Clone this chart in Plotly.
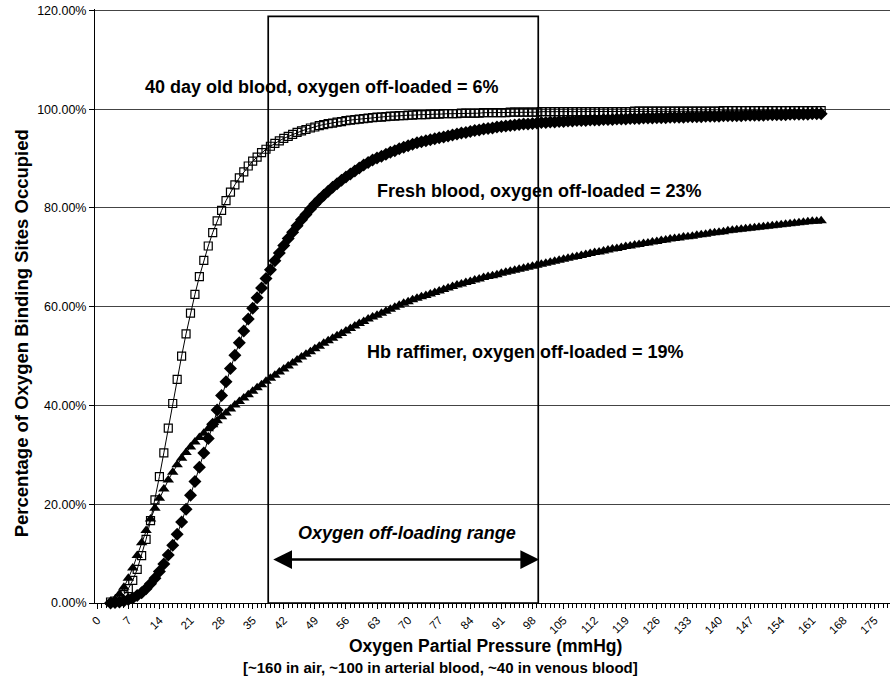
import plotly.graph_objects as go

# oxygen partial pressure (mmHg), one point per mmHg
pressure = list(range(3, 164))

# % of binding sites occupied (x = 3..163)
old_blood = [
    0.2, 0.4, 0.9, 1.7, 2.9, 4.6, 6.8, 9.6, 12.9, 16.7,
    20.9, 25.6, 30.4, 35.4, 40.4, 45.3, 50.0, 54.5, 58.7, 62.5,
    66.1, 69.4, 72.3, 75.0, 77.4, 79.5, 81.5, 83.2, 84.7, 86.1,
    87.3, 88.5, 89.5, 90.3, 91.2, 91.9, 92.5, 93.1, 93.6, 94.1,
    94.5, 94.9, 95.3, 95.6, 95.9, 96.2, 96.4, 96.7, 96.9, 97.1,
    97.2, 97.4, 97.5, 97.7, 97.8, 97.9, 98.0, 98.1, 98.2, 98.3,
    98.4, 98.4, 98.5, 98.6, 98.6, 98.7, 98.7, 98.8, 98.8, 98.9,
    98.9, 98.9, 99.0, 99.0, 99.0, 99.1, 99.1, 99.1, 99.1, 99.2,
    99.2, 99.2, 99.2, 99.2, 99.3, 99.3, 99.3, 99.3, 99.3, 99.3,
    99.4, 99.4, 99.4, 99.4, 99.4, 99.4, 99.4, 99.5, 99.5, 99.5,
    99.5, 99.5, 99.5, 99.5, 99.5, 99.5, 99.5, 99.5, 99.5, 99.5,
    99.5, 99.5, 99.5, 99.5, 99.5, 99.5, 99.5, 99.5, 99.6, 99.6,
    99.6, 99.6, 99.6, 99.6, 99.6, 99.6, 99.6, 99.6, 99.6, 99.6,
    99.6, 99.6, 99.6, 99.6, 99.6, 99.6, 99.6, 99.6, 99.7, 99.7,
    99.7, 99.7, 99.7, 99.7, 99.7, 99.7, 99.7, 99.7, 99.7, 99.7,
    99.7, 99.7, 99.7, 99.7, 99.7, 99.7, 99.7, 99.7, 99.7, 99.7,
    99.7,
]

fresh_blood = [
    0.0, 0.1, 0.2, 0.4, 0.7, 1.0, 1.5, 2.1, 2.9, 3.9,
    5.0, 6.4, 7.9, 9.7, 11.7, 13.9, 16.4, 19.0, 21.8, 24.6,
    27.5, 30.4, 33.3, 36.2, 39.1, 42.0, 44.8, 47.5, 50.2, 52.7,
    55.1, 57.5, 59.7, 61.8, 63.8, 65.7, 67.5, 69.3, 70.9, 72.4,
    73.8, 75.1, 76.4, 77.6, 78.7, 79.8, 80.8, 81.7, 82.6, 83.4,
    84.2, 84.9, 85.6, 86.3, 86.9, 87.5, 88.1, 88.7, 89.2, 89.7,
    90.1, 90.5, 90.9, 91.3, 91.6, 92.0, 92.3, 92.6, 92.9, 93.2,
    93.4, 93.6, 93.8, 94.0, 94.2, 94.4, 94.6, 94.8, 95.0, 95.2,
    95.3, 95.5, 95.7, 95.8, 96.0, 96.1, 96.2, 96.4, 96.5, 96.6,
    96.7, 96.8, 96.9, 97.0, 97.0, 97.1, 97.2, 97.3, 97.3, 97.4,
    97.4, 97.5, 97.5, 97.6, 97.6, 97.7, 97.7, 97.7, 97.8, 97.8,
    97.8, 97.9, 97.9, 97.9, 98.0, 98.0, 98.0, 98.1, 98.1, 98.1,
    98.2, 98.2, 98.2, 98.3, 98.3, 98.3, 98.4, 98.4, 98.4, 98.4,
    98.5, 98.5, 98.5, 98.5, 98.6, 98.6, 98.6, 98.6, 98.7, 98.7,
    98.7, 98.7, 98.7, 98.8, 98.8, 98.8, 98.8, 98.8, 98.9, 98.9,
    98.9, 98.9, 98.9, 99.0, 99.0, 99.0, 99.0, 99.0, 99.1, 99.1,
    99.1,
]

hb_raffimer = [
    0.1, 0.7, 1.8, 3.2, 5.0, 7.1, 9.6, 12.2, 14.7, 17.0,
    19.2, 21.2, 23.1, 24.9, 26.5, 28.0, 29.3, 30.5, 31.6, 32.6,
    33.5, 34.4, 35.3, 36.1, 36.9, 37.7, 38.5, 39.3, 40.1, 40.8,
    41.5, 42.2, 42.9, 43.6, 44.2, 44.9, 45.5, 46.1, 46.8, 47.4,
    48.0, 48.6, 49.2, 49.8, 50.4, 50.9, 51.5, 52.0, 52.6, 53.1,
    53.6, 54.1, 54.6, 55.1, 55.6, 56.1, 56.6, 57.0, 57.5, 57.9,
    58.3, 58.7, 59.1, 59.5, 59.9, 60.3, 60.7, 61.0, 61.4, 61.7,
    62.0, 62.3, 62.6, 62.9, 63.2, 63.5, 63.8, 64.1, 64.4, 64.6,
    64.9, 65.1, 65.4, 65.6, 65.9, 66.1, 66.3, 66.5, 66.8, 67.0,
    67.2, 67.4, 67.6, 67.8, 68.0, 68.2, 68.4, 68.6, 68.8, 69.0,
    69.2, 69.4, 69.6, 69.8, 70.0, 70.2, 70.4, 70.6, 70.8, 71.0,
    71.1, 71.3, 71.5, 71.7, 71.8, 72.0, 72.2, 72.3, 72.5, 72.6,
    72.8, 72.9, 73.1, 73.2, 73.4, 73.5, 73.7, 73.8, 73.9, 74.1,
    74.2, 74.3, 74.5, 74.6, 74.7, 74.9, 75.0, 75.1, 75.2, 75.4,
    75.5, 75.6, 75.7, 75.8, 75.9, 76.0, 76.1, 76.2, 76.3, 76.4,
    76.5, 76.6, 76.7, 76.8, 76.9, 77.0, 77.1, 77.2, 77.3, 77.3,
    77.4,
]

# off-loading window and arrow (mmHg, %)
range_box = (38.5, 99.3, 118.8)
arrow_span = (39.3, 99.5, 8.8)

FONT = "Liberation Sans, Arial, sans-serif"

fig = go.Figure()

fig.add_trace(go.Scatter(
    x=pressure, y=hb_raffimer, mode="lines+markers", name="Hb raffimer",
    line=dict(color="black", width=1),
    marker=dict(symbol="triangle-up", size=10, color="black"),
    cliponaxis=False,
))
fig.add_trace(go.Scatter(
    x=pressure, y=fresh_blood, mode="lines+markers", name="Fresh blood",
    line=dict(color="black", width=1),
    marker=dict(symbol="diamond", size=10, color="black"),
    cliponaxis=False,
))
fig.add_trace(go.Scatter(
    x=pressure, y=old_blood, mode="lines+markers", name="40 day old blood",
    line=dict(color="black", width=1),
    marker=dict(symbol="square-open", size=8, color="black",
                line=dict(color="black", width=1.2)),
    cliponaxis=False,
))

# the off-loading range box
fig.add_shape(type="rect", xref="x", yref="y",
              x0=range_box[0], x1=range_box[1], y0=0, y1=range_box[2],
              line=dict(color="black", width=1.7))

# double headed arrow
fig.add_annotation(x=arrow_span[1], y=arrow_span[2], ax=arrow_span[0], ay=arrow_span[2],
                   xref="x", yref="y", axref="x", ayref="y", text="",
                   showarrow=True, arrowhead=2, arrowside="end+start",
                   arrowwidth=2.5, arrowsize=1.5, arrowcolor="black")

labels = [
    (69.7, 14.1, "<b><i>Oxygen off-loading range</i></b>"),
    (50.6, 104.6, "<b>40 day old blood, oxygen off-loaded = 6%</b>"),
    (99.5, 83.4, "<b>Fresh blood, oxygen off-loaded = 23%</b>"),
    (96.5, 50.9, "<b>Hb raffimer, oxygen off-loaded = 19%</b>"),
]
for lx, ly, txt in labels:
    fig.add_annotation(x=lx, y=ly, xref="x", yref="y", text=txt, showarrow=False,
                       xanchor="center", yanchor="middle",
                       font=dict(family=FONT, size=18, color="black"))

# axis titles
fig.add_annotation(x=0, y=0.454, xref="paper", yref="paper", xshift=-74,
                   xanchor="center", yanchor="middle",
                   text="<b>Percentage of Oxygen Binding Sites Occupied</b>",
                   textangle=-90, showarrow=False,
                   font=dict(family=FONT, size=18.5, color="black"))
fig.add_annotation(x=0.491, y=-43 / 594.5, xref="paper", yref="paper",
                   xanchor="center", yanchor="middle",
                   text="<b>Oxygen Partial Pressure (mmHg)</b>", showarrow=False,
                   font=dict(family=FONT, size=17.5, color="black"))
fig.add_annotation(x=0.435, y=-65 / 594.5, xref="paper", yref="paper",
                   xanchor="center", yanchor="middle",
                   text="<b>[~160 in air, ~100 in arterial blood, ~40 in venous blood]</b>",
                   showarrow=False, font=dict(family=FONT, size=15, color="black"))

fig.update_layout(
    width=895, height=678,
    margin=dict(l=95, r=5, t=8.5, b=75),
    plot_bgcolor="white", paper_bgcolor="white",
    showlegend=False,
    font=dict(family=FONT, color="black"),
)

fig.update_xaxes(
    range=[-0.5, 178.5], tick0=0, dtick=7,
    ticks="outside", ticklen=5, tickcolor="black", tickangle=-45,
    tickfont=dict(size=11.5),
    showline=True, linecolor="black", linewidth=1,
    showgrid=False, zeroline=False, automargin=False,
    minor=dict(dtick=1, ticks="outside", ticklen=4, tickcolor="black", showgrid=False),
)
# top of range a hair above 120 so the 120% gridline is drawn
fig.update_yaxes(
    range=[0, 120.3], dtick=20, tickformat=".2f", ticksuffix="%",
    ticks="outside", ticklen=5, tickcolor="black",
    tickfont=dict(size=12.5), ticklabeloverflow="allow",
    showline=True, linecolor="black", linewidth=1,
    showgrid=True, gridcolor="#444", gridwidth=1, zeroline=False, automargin=False,
)

# drop the browser's default 8px body margin so the figure sits at 0,0
fig.write_html("out.html", config={"displayModeBar": False},
               post_script="document.body.style.margin = '0';")
